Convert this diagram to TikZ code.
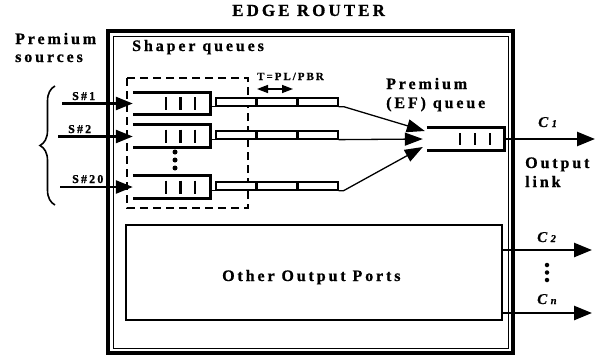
\documentclass[tikz,border=0pt]{standalone}
\usepackage{fontspec}
\setmainfont{Liberation Serif}
\newfontfamily\spfont[LetterSpace=18, BoldFeatures={FakeBold=0.8}]{Liberation Serif}
\newfontfamily\cfont[BoldItalicFeatures={FakeBold=0.6}]{Liberation Serif}
\usetikzlibrary{arrows.meta,decorations.pathreplacing,calc}
\begin{document}
\begin{tikzpicture}[x=1pt,y=-1pt,
  lbl/.style={inner sep=0pt, anchor=base west, font=\spfont\bfseries\fontsize{16}{18}\selectfont},
  ttl/.style={inner sep=0pt, anchor=base west, font=\spfont\bfseries\fontsize{17}{19}\selectfont},
  small/.style={inner sep=0pt, anchor=base west, font=\spfont\bfseries\fontsize{12}{13}\selectfont},
  tiny/.style={inner sep=0pt, anchor=base west, font=\spfont\bfseries\fontsize{11}{12}\selectfont},
  clbl/.style={inner sep=0pt, anchor=base west, font=\cfont\bfseries\itshape\fontsize{15}{17}\selectfont},
  queue/.style={inner sep=0pt, minimum width=77pt, minimum height=22pt},
  qline/.style={line width=2.8pt},
  bar/.style={line width=2.6pt},
  tok/.style={draw, line width=1.3pt, fill=white, inner sep=0pt, minimum width=40pt, minimum height=8pt},
  conn/.style={line width=1pt},
  inarrow/.style={line width=2.5pt, -{Triangle[length=17pt,width=13pt]}},
  midarrow/.style={line width=1.3pt, -{Triangle[length=18pt,width=13pt]}},
  outarrow/.style={line width=2.5pt, -{Triangle[length=18pt,width=14pt]}},
  dot/.style={circle, fill, inner sep=0pt, minimum size=5pt},
  sdot/.style={circle, fill, inner sep=0pt, minimum size=4.5pt},
]
\useasboundingbox (0,0) rectangle (604,356);

% router frame
\draw[line width=3.5pt] (108,31) rectangle (513,353);
\draw[line width=1pt] (113,36) rectangle (508,348);

% texts
\node[ttl] (title) at (232,16) {EDGE ROUTER};
\node[lbl] (prem1) at (15,44) {Premium};
\node[lbl] (prem2) at (15,62) {sources};
\node[lbl] (shaper) at (132,51) {Shaper queues};
\node[tiny] (tlbl) at (257,80) {T=PL/PBR};
\node[small] (s1lbl) at (72,100) {S\#1};
\node[small] (s2lbl) at (68,133) {S\#2};
\node[small] (s20lbl) at (72,183) {S\#20};
\node[lbl] (ef1) at (386,89) {Premium};
\node[lbl] (ef2) at (386,108) {(EF) queue};
\node[lbl] (out1) at (525,168) {Output};
\node[lbl] (out2) at (525,187) {link};

% dashed shaper box
\draw[line width=2.5pt, dash pattern=on 8pt off 5pt] (127,78) rectangle (248,208);

% shaper queues
\node[queue] (q1) at (171.5,103.5) {};
\node[queue] (q2) at (171.5,136) {};
\node[queue] (q20) at (171.5,187) {};
\node[queue] (pq) at (465.5,139) {};
\foreach \q in {q1,q2,q20,pq}{
  \draw[qline] (\q.north west) -- (\q.north east) -- (\q.south east) -- (\q.south west);
}
\foreach \q in {q1,q2,q20}{
  \foreach \dx in {-5.5,9,23.5}{
    \draw[bar] ($(\q.center)+(\dx,-6.5)$) -- ($(\q.center)+(\dx,6.5)$);
  }
}
\foreach \dx in {-5.5,9.5,24.5}{
  \draw[bar] ($(pq.center)+(\dx,-6)$) -- ($(pq.center)+(\dx,6)$);
}
\node[dot] (d1) at (175,152) {};
\node[dot] (d2) at (175,160) {};
\node[dot] (d3) at (175,168) {};

% input arrows
\coordinate (s1) at (62,103.5);
\coordinate (s2) at (58,136.5);
\coordinate (s20) at (60,187);
\draw[inarrow] (s1) -- (s1 -| q1.west);
\draw[inarrow] (s2) -- (s2 -| q2.west);
\draw[inarrow] (s20) -- (s20 -| q20.west);

% brace
\coordinate (bb) at (55,205);
\coordinate (bt) at (55,86);
\draw[line width=1.6pt, decorate, decoration={brace, amplitude=15pt}] (bb) -- (bt);

% token buckets
\foreach \q/\y in {q1/102, q2/135, q20/186}{
  \node[tok] (\q a) at (236,\y) {};
  \node[tok] (\q b) at (277,\y) {};
  \node[tok] (\q c) at (318,\y) {};
  \draw[conn] (\q a.south west -| \q.east) -- (\q a.south west);
}
\draw[line width=1.4pt, {Triangle[length=11pt,width=8pt]}-{Triangle[length=11pt,width=8pt]}] (257,89) -- (293,89);

% into premium queue
\draw[midarrow] (q1c.south east) -- ++(5,0) -- ($(pq.west)+(-2,-8)$);
\draw[midarrow] (q2c.south east) -- ($(pq.west)+(-4,0)$);
\draw[midarrow] (q20c.south east) -- ++(5,0) -- ($(pq.west)+(-4,8)$);

% output link
\coordinate (c1end) at (595,139);
\draw[outarrow] (pq.east) -- (c1end);
\node[clbl] (c1) at (538,127) {C\hspace{3.5pt}{\fontsize{10.5}{11}\selectfont 1}};

% other output ports
\node[draw, line width=1.5pt, inner sep=0pt, minimum width=376pt, minimum height=95pt] (op) at (314,272.5) {};
\node[lbl] (optext) at (222,281) {Other Output Ports};
\coordinate (c2end) at (592,250);
\coordinate (cnend) at (592,313);
\draw[outarrow] (c2end -| op.east) -- (c2end);
\draw[outarrow] (cnend -| op.east) -- (cnend);
\node[clbl] (c2) at (537,242) {C\hspace{3.5pt}{\fontsize{10.5}{11}\selectfont 2}};
\node[clbl] (cn) at (537,304) {C\hspace{3.5pt}{\fontsize{10.5}{11}\selectfont n}};
\node[sdot] (e1) at (547,265) {};
\node[sdot] (e2) at (547,272.5) {};
\node[sdot] (e3) at (547,280) {};
\end{tikzpicture}
\end{document}
